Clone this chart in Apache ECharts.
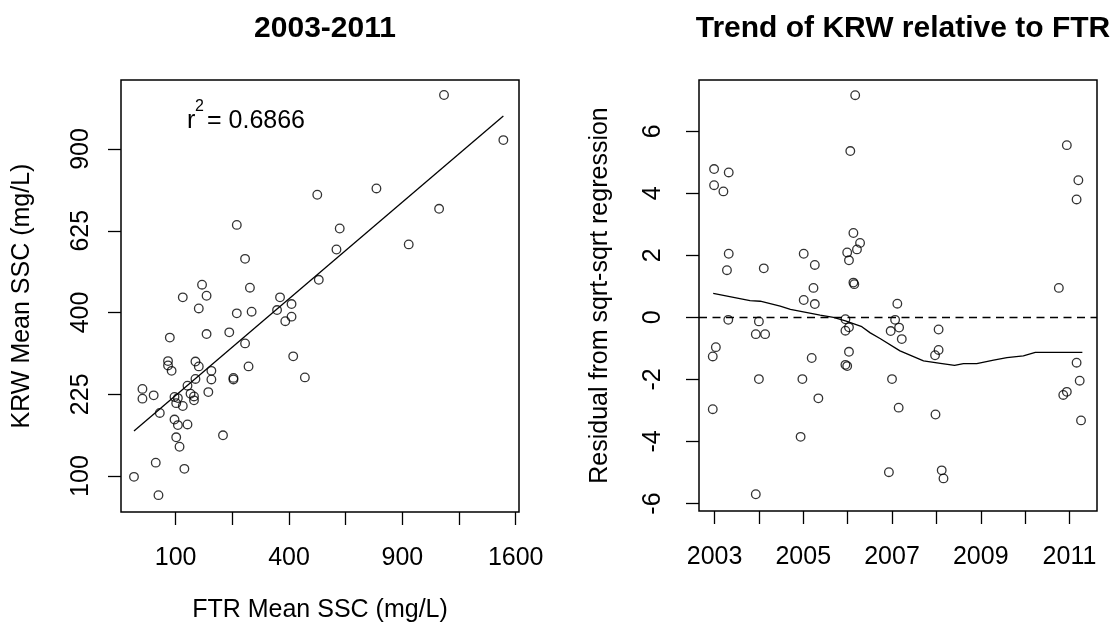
<!DOCTYPE html>
<html>
<head>
<meta charset="utf-8">
<title>KRW vs FTR suspended sediment</title>
<script src="https://cdn.jsdelivr.net/npm/echarts@6/dist/echarts.min.js"></script>
<style>
  html, body { margin: 0; padding: 0; background: #fff; }
  #chart { width: 1117px; height: 632px; }
</style>
</head>
<body>
<div id="chart"></div>
<script>
// Paired annual mean SSC (mg/L) at the two stations
const ftrSSC = [1134,1514,768,506,1105,599,934,585,237,260,512,152,274,162,113,369,409,145,237,279,
  359,409,387,90,162,217,260,415,87,87,93,138,145,173,270,458,228,228,138,173,
  122,50,50,65,166,98,104,128,135,135,101,113,74,98,104,122,101,107,201,68,116,40,72];
const krwSSC = [1109,933,761,740,694,632,584,569,643,542,484,471,463,442,438,438,421,410,398,402,
  406,390,379,341,349,353,328,300,290,281,270,289,279,270,279,257,256,253,254,253,
  241,235,217,223,229,220,218,226,221,214,209,204,192,181,172,173,153,139,156,117,109,99,78];

// sqrt-sqrt regression fit (KRW on FTR)
const fitIntercept = 9.02;
const fitSlope = 0.591;
const rSquared = '0.6866';

// Residuals from the sqrt-sqrt regression by sample date (decimal year)
const residYear = [2006.17,2006.06,2002.99,2003.32,2002.99,2003.20,2006.13,2006.28,2006.21,2005.99,
  2006.03,2003.32,2003.28,2004.11,2005.01,2005.26,2005.23,2005.01,2005.26,2006.13,2006.15,
  2003.31,2004.00,2003.93,2004.14,2005.95,2006.03,2005.95,2006.03,2005.95,2005.99,
  2003.03,2002.96,2002.96,2005.19,2004.00,2004.98,2005.34,2004.94,2003.93,
  2007.12,2007.07,2006.97,2007.16,2007.22,2008.05,2008.05,2007.97,2007.00,2007.15,
  2007.98,2006.93,2008.12,2008.16,2011.16,2011.23,2010.94,2010.86,2011.26,
  2010.94,2011.20,2011.16,2010.76];
const residValue = [7.16,5.36,4.78,4.67,4.26,4.06,2.72,2.40,2.19,2.09,
  1.84,2.05,1.52,1.58,2.05,1.69,0.95,0.56,0.43,1.12,1.07,
  -0.08,-0.13,-0.54,-0.54,-0.06,-0.32,-0.43,-1.11,-1.53,-1.57,
  -0.96,-1.26,-2.96,-1.31,-1.99,-1.99,-2.61,-3.85,-5.70,
  0.44,-0.08,-0.44,-0.33,-0.70,-0.39,-1.05,-1.22,-1.99,-2.91,
  -3.13,-4.99,-4.93,-5.19,-1.46,-2.04,-2.40,-2.50,-3.32,
  5.55,4.42,3.80,0.95];

// Smoothed (lowess) trend of the residuals
const smoothYear = [2002.97,2003.80,2004.03,2004.48,2004.71,2005.38,2005.68,2005.95,2006.32,2006.51,
  2006.73,2007.18,2007.71,2008.09,2008.41,2008.61,2008.91,2009.29,2009.59,2009.96,2010.23,2011.29];
const smoothValue = [0.77,0.54,0.52,0.36,0.26,0.07,0.00,-0.11,-0.30,-0.50,
  -0.68,-1.08,-1.40,-1.48,-1.55,-1.49,-1.49,-1.38,-1.30,-1.24,-1.13,-1.13];

// Tick positions (mg/L on sqrt axes, years on the trend axis)
const ssxTicks = [100,225,400,625,900,1225,1600];
const ssxLabels = [100,400,900,1600];
const ssyTicks = [100,225,400,625,900];
const yearTicks = [2003,2004,2005,2006,2007,2008,2009,2010,2011];
const yearLabels = [2003,2005,2007,2009,2011];
const residTicks = [-6,-4,-2,0,2,4,6];

const FONT = '"Liberation Sans", Arial, Helvetica, sans-serif';
const sq = Math.sqrt;

const scatterPts = ftrSSC.map((f, i) => [sq(f), sq(krwSSC[i])]);
const sxs = scatterPts.map(p => p[0]);
const x0 = Math.min(...sxs), x1 = Math.max(...sxs);
const fitLine = [[x0, fitIntercept + fitSlope * x0], [x1, fitIntercept + fitSlope * x1]];
const residPts = residYear.map((y, i) => [y, residValue[i]]);
const smoothPts = smoothYear.map((y, i) => [y, smoothValue[i]]);

const tickStyle = { show: true, inside: false, length: 13, lineStyle: { color: '#000', width: 1.3 } };
const labelBase = { color: '#000', fontSize: 25, fontFamily: FONT };
const nameBase = { color: '#000', fontSize: 25, fontFamily: FONT };
const hiddenLine = { show: false, onZero: false };
const circle = {
  symbol: 'circle', symbolSize: 8.6,
  itemStyle: { color: 'rgba(0,0,0,0)', borderColor: '#000', borderWidth: 1.3 }
};

const chart = echarts.init(document.getElementById('chart'), null, { renderer: 'canvas' });
chart.setOption({
  animation: false,
  backgroundColor: '#fff',
  title: [
    { text: '2003-2011', left: 320, top: 9, textAlign: 'center',
      textStyle: { fontSize: 30, fontWeight: 'bold', color: '#000', fontFamily: FONT } },
    { text: 'Trend of KRW relative to FTR', left: 898, top: 9, textAlign: 'center',
      textStyle: { fontSize: 30, fontWeight: 'bold', color: '#000', fontFamily: FONT } }
  ],
  grid: [
    { left: 121, top: 80, width: 398, height: 432, show: true, borderColor: '#000', borderWidth: 1.5, backgroundColor: 'transparent' },
    { left: 699, top: 80, width: 398, height: 431, show: true, borderColor: '#000', borderWidth: 1.5, backgroundColor: 'transparent' }
  ],
  xAxis: [
    { type: 'value', gridIndex: 0, min: 5.18, max: 40.29,
      axisLine: hiddenLine, splitLine: { show: false },
      axisTick: Object.assign({ customValues: ssxTicks.map(sq) }, tickStyle),
      axisLabel: Object.assign({ customValues: ssxLabels.map(sq), margin: 34,
        formatter: v => String(Math.round(v * v)) }, labelBase),
      name: 'FTR Mean SSC (mg/L)', nameLocation: 'middle', nameGap: 86, nameTextStyle: nameBase },
    { type: 'value', gridIndex: 1, min: 2002.65, max: 2011.62,
      axisLine: hiddenLine, splitLine: { show: false },
      axisTick: Object.assign({ customValues: yearTicks }, tickStyle),
      axisLabel: Object.assign({ customValues: yearLabels, margin: 34,
        formatter: v => String(Math.round(v)) }, labelBase) }
  ],
  yAxis: [
    { type: 'value', gridIndex: 0, min: 7.80, max: 34.22,
      axisLine: hiddenLine, splitLine: { show: false },
      axisTick: Object.assign({ customValues: ssyTicks.map(sq) }, tickStyle),
      axisLabel: Object.assign({ customValues: ssyTicks.map(sq), rotate: 90, margin: 27,
        formatter: v => String(Math.round(v * v)) }, labelBase),
      name: 'KRW Mean SSC (mg/L)', nameLocation: 'middle', nameRotate: 90, nameGap: 86, nameTextStyle: nameBase },
    { type: 'value', gridIndex: 1, min: -6.24, max: 7.65,
      axisLine: hiddenLine, splitLine: { show: false },
      axisTick: Object.assign({ customValues: residTicks }, tickStyle),
      axisLabel: Object.assign({ customValues: residTicks, rotate: 90, margin: 33,
        formatter: v => String(Math.round(v)) }, labelBase),
      name: 'Residual from sqrt-sqrt regression', nameLocation: 'middle', nameRotate: 90, nameGap: 86, nameTextStyle: nameBase }
  ],
  series: [
    Object.assign({ type: 'scatter', xAxisIndex: 0, yAxisIndex: 0, data: scatterPts, silent: true }, circle),
    { type: 'line', xAxisIndex: 0, yAxisIndex: 0, data: fitLine, showSymbol: false, silent: true,
      lineStyle: { color: '#000', width: 1.3 } },
    Object.assign({ type: 'scatter', xAxisIndex: 1, yAxisIndex: 1, data: residPts, silent: true,
      markLine: { silent: true, symbol: ['none', 'none'], label: { show: false },
        lineStyle: { color: '#000', width: 1.3, type: [8, 5.5] }, data: [{ yAxis: 0 }] } }, circle),
    { type: 'line', xAxisIndex: 1, yAxisIndex: 1, data: smoothPts, showSymbol: false, silent: true,
      lineStyle: { color: '#000', width: 1.3 } }
  ],
  graphic: [
    { type: 'text', left: 187, top: 109, style: { text: 'r', fontSize: 25, fontFamily: FONT, fill: '#000' } },
    { type: 'text', left: 195, top: 99, style: { text: '2', fontSize: 16, fontFamily: FONT, fill: '#000' } },
    { type: 'text', left: 207, top: 109, style: { text: '= 0.' + rSquared.slice(2), fontSize: 25, fontFamily: FONT, fill: '#000' } }
  ]
});
</script>
</body>
</html>
